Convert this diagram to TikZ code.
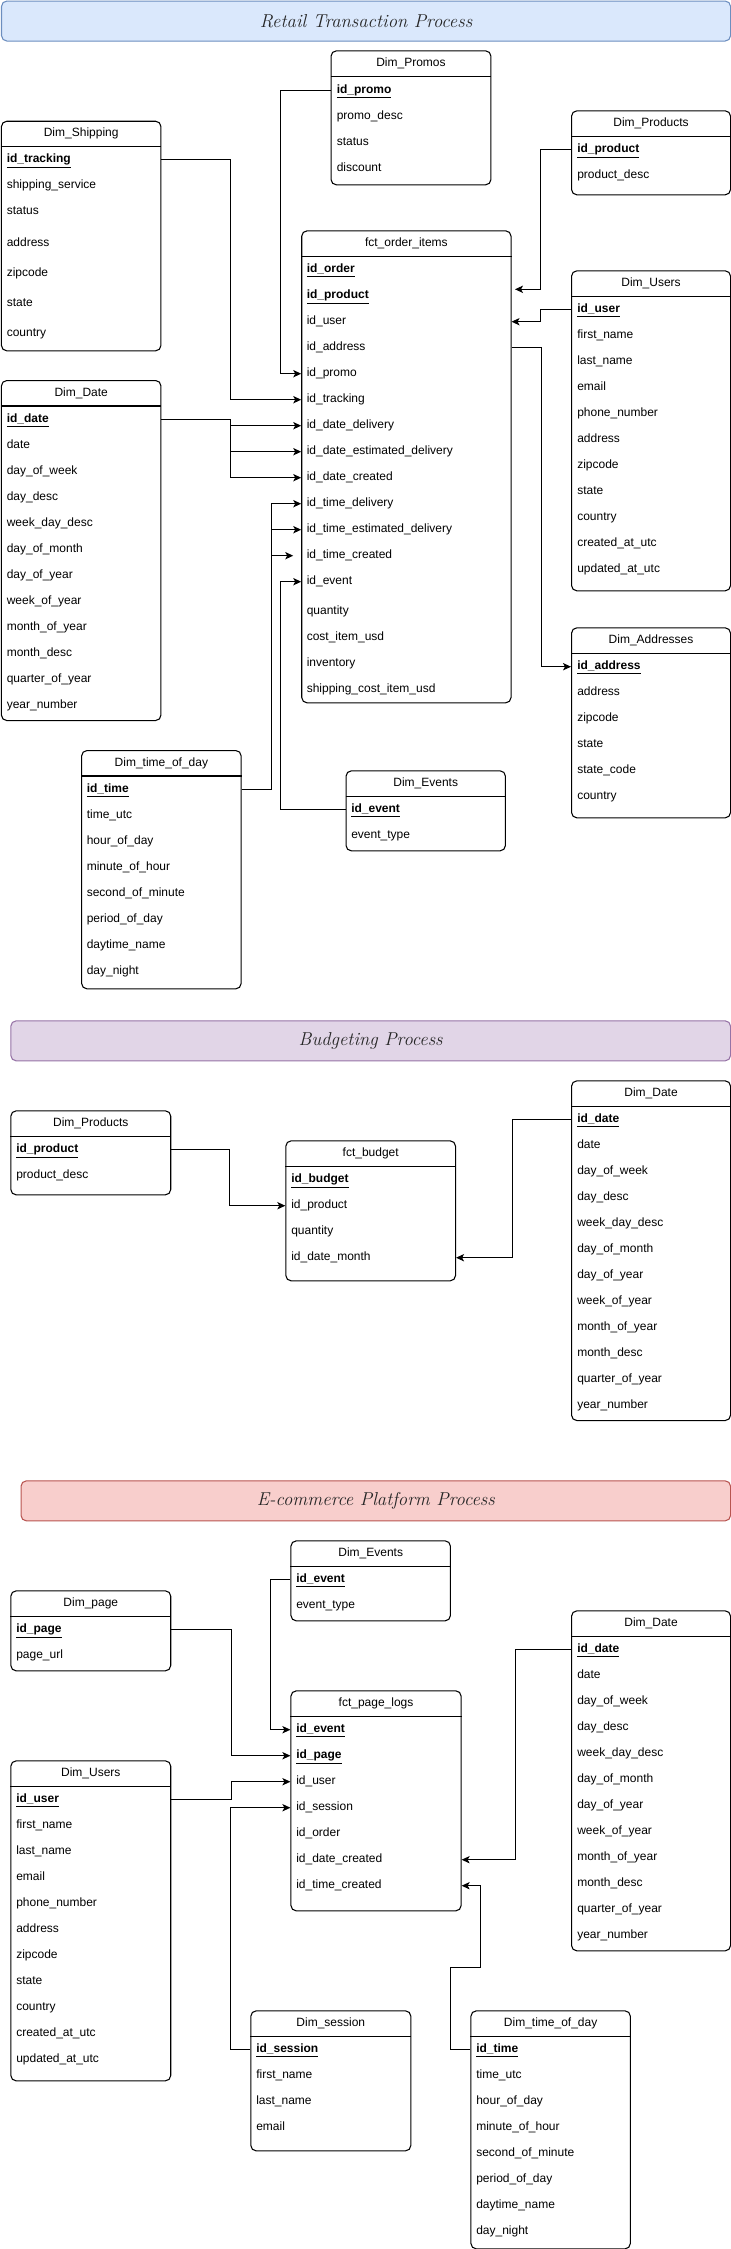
\documentclass[tikz,border=0pt]{standalone}
\usepackage{fontspec}
\setsansfont{Liberation Sans}
\usetikzlibrary{arrows.meta}

\definecolor{retailfill}{HTML}{DAE8FC}
\definecolor{retaildraw}{HTML}{6C8EBF}
\definecolor{budgetfill}{HTML}{E1D5E7}
\definecolor{budgetdraw}{HTML}{9673A6}
\definecolor{ecomfill}{HTML}{F8CECC}
\definecolor{ecomdraw}{HTML}{B85450}

\newcommand{\pk}[1]{\textbf{\underline{#1}}}
\newcommand*{\colsproducts}{\pk{id\_product}, product\_desc}
\newcommand*{\colsevents}{\pk{id\_event}, event\_type}
\newcommand*{\colsusers}{\pk{id\_user}, first\_name, last\_name, email, phone\_number, address, zipcode, state, country, created\_at\_utc, updated\_at\_utc}
\newcommand*{\colsdate}{\pk{id\_date}, date, day\_of\_week, day\_desc, week\_day\_desc, day\_of\_month, day\_of\_year, week\_of\_year, month\_of\_year, month\_desc, quarter\_of\_year, year\_number}
\newcommand*{\colstime}{\pk{id\_time}, time\_utc, hour\_of\_day, minute\_of\_hour, second\_of\_minute, period\_of\_day, daytime\_name, day\_night}

\begin{document}
\begin{tikzpicture}[x=0.75pt, y=-0.75pt,
	tbl/.style n args={2}{draw, rounded corners=4pt, line width=0.8pt, anchor=north west, inner sep=0pt, minimum width=#1*0.75pt, minimum height=#2*0.75pt},
	bar/.style n args={2}{draw, rounded corners=4pt, line width=0.8pt, anchor=north west, inner sep=0pt, minimum height=40*0.75pt, minimum width=#1*0.75pt, fill=#2fill, draw=#2draw, font=\itshape\fontsize{14}{16}\selectfont, text=black!85},
	hdr/.style={font=\sffamily\fontsize{9}{11}\selectfont, text height=6.5pt, text depth=2pt},
	row/.style={anchor=west, inner sep=0pt, text height=6.5pt, text depth=2pt, font=\sffamily\fontsize{9}{11}\selectfont},
	link/.style={line width=0.7pt, -{Stealth[length=6pt, width=5.5pt, inset=1.5pt]}}]
	\useasboundingbox (0,0) rectangle (731,2249);

	% Retail Transaction Process
	\node[bar={729}{retail}] (retail) at (1,0.5) {Retail Transaction Process};

	% Tabellen
	\node[tbl={159.9}{134}] (promos) at (330.5,50.3) {};
	\node[tbl={159.5}{229.6}] (ship) at (0.9,120.7) {};
	\node[tbl={159}{84}] (tprod) at (571,110.3) {};
	\node[tbl={209.3}{472}] (fct) at (301.2,230.3) {};
	\node[tbl={159}{320}] (users) at (571,270.3) {};
	\node[tbl={159}{190}] (addr) at (571,627.3) {};
	\node[tbl={159.5}{340}] (date) at (0.9,380) {};
	\node[tbl={159.5}{238.3}] (time) at (81.1,750) {};
	\node[tbl={159.4}{80}] (events) at (345.5,770.3) {};

	% Kopfzeilen
	\node[hdr] (promos-h) at ([yshift=-9.75pt]promos.north) {Dim\_Promos};
	\node[hdr] (ship-h) at ([yshift=-9.75pt]ship.north) {Dim\_Shipping};
	\node[hdr] (tprod-h) at ([yshift=-9.75pt]tprod.north) {Dim\_Products};
	\node[hdr] (fct-h) at ([yshift=-9.75pt]fct.north) {fct\_order\_items};
	\node[hdr] (users-h) at ([yshift=-9.75pt]users.north) {Dim\_Users};
	\node[hdr] (addr-h) at ([yshift=-9.75pt]addr.north) {Dim\_Addresses};
	\node[hdr] (date-h) at ([yshift=-9.75pt]date.north) {Dim\_Date};
	\node[hdr] (time-h) at ([yshift=-9.75pt]time.north) {Dim\_time\_of\_day};
	\node[hdr] (events-h) at ([yshift=-9.75pt]events.north) {Dim\_Events};

	% Spalten
	\foreach \t [count=\i from 0] in {\pk{id\_promo}, promo\_desc, status, discount}
		\node[row] (promos-\i) at (336.5, 90+26*\i) {\t};
	\foreach \t/\y [count=\i from 0] in {\pk{id\_tracking}/159.7, shipping\_service/185.7, status/211.7, address/243.7, zipcode/273.7, state/303.7, country/333.7}
		\node[row] (ship-\i) at (6.5, \y) {\t};
	\foreach \t [count=\i from 0] in \colsproducts
		\node[row] (tprod-\i) at (577, 149.7+26*\i) {\t};
	\foreach \t [count=\i from 0] in {\pk{id\_order}, \pk{id\_product}, id\_user, id\_address, id\_promo, id\_tracking, id\_date\_delivery, id\_date\_estimated\_delivery, id\_date\_created, id\_time\_delivery, id\_time\_estimated\_delivery, id\_time\_created, id\_event}
		\node[row] (fct-\i) at (306.5, 269.7+26*\i) {\t};
	\foreach \t [count=\i from 13] in {quantity, cost\_item\_usd, inventory, shipping\_cost\_item\_usd}
		\node[row] (fct-\i) at (306.5, 273.7+26*\i) {\t};
	\foreach \t [count=\i from 0] in \colsusers
		\node[row] (users-\i) at (577, 309.7+26*\i) {\t};
	\foreach \t [count=\i from 0] in {\pk{id\_address}, address, zipcode, state, state\_code, country}
		\node[row] (addr-\i) at (577, 666.7+26*\i) {\t};
	\foreach \t [count=\i from 0] in \colsdate
		\node[row] (date-\i) at (6.5, 419.7+26*\i) {\t};
	\foreach \t [count=\i from 0] in \colstime
		\node[row] (time-\i) at (86.5, 789.7+26*\i) {\t};
	\foreach \t [count=\i from 0] in \colsevents
		\node[row] (events-\i) at (351, 809.7+26*\i) {\t};

	% Verbindungen
	\coordinate (fct-prod) at (515,289.3);
	\draw[link] (promos-0 -| promos.west) -- ++(-49.8,0) |- (fct-4 -| fct.west);
	\draw[link] (ship-0 -| ship.east) -- ++(69.4,0) |- (fct-5 -| fct.west);
	\draw[link] (tprod-0 -| tprod.west) -- ++(-30.2,0) |- (fct-prod);
	\draw[link] (users-0 -| users.west) -- ++(-30.2,0) |- (fct-2 -| fct.east);
	\draw[link] (fct-3 -| fct.east) -- ++(30.3,0) |- (addr-0 -| addr.west);
	\foreach \j in {6,7,8}
		\draw[link] (date-0 -| date.east) -- ++(69.4,0) |- (fct-\j -| fct.west);
	\foreach \j in {9,10}
		\draw[link] (time-0 -| time.east) -- ++(29.8,0) |- (fct-\j -| fct.west);
	\draw[link] (time-0 -| time.east) -- ++(29.8,0) |- ([xshift=-6pt]fct-11 -| fct.west);
	\draw[link] (events-0 -| events.west) -- ++(-64.8,0) |- (fct-12 -| fct.west);

	% Budgeting Process
	\node[bar={719.7}{budget}] (budget-bar) at (10.3,1020.3) {Budgeting Process};

	\node[tbl={159.9}{84}] (bprod) at (10.3,1110.3) {};
	\node[tbl={169.7}{140}] (budget) at (285.3,1140.3) {};
	\node[tbl={159}{339.7}] (bdate) at (571,1080.3) {};

	\node[hdr] (bprod-h) at ([yshift=-9.75pt]bprod.north) {Dim\_Products};
	\node[hdr] (budget-h) at ([yshift=-9.75pt]budget.north) {fct\_budget};
	\node[hdr] (bdate-h) at ([yshift=-9.75pt]bdate.north) {Dim\_Date};

	\foreach \t [count=\i from 0] in \colsproducts
		\node[row] (bprod-\i) at (16, 1149.7+26*\i) {\t};
	\foreach \t [count=\i from 0] in {\pk{id\_budget}, id\_product, quantity, id\_date\_month}
		\node[row] (budget-\i) at (291, 1179.7+26*\i) {\t};
	\foreach \t [count=\i from 0] in \colsdate
		\node[row] (bdate-\i) at (577, 1119.7+26*\i) {\t};

	\draw[link] (bprod-0 -| bprod.east) -- ++(57.8,0) |- (budget-1 -| budget.west);
	\draw[link] (bdate-0 -| bdate.west) -- ++(-58.2,0) |- (budget-3 -| budget.east);

	% E-commerce Platform Process
	\node[bar={709.5}{ecom}] (ecom-bar) at (20.5,1480.3) {E-commerce Platform Process};

	\node[tbl={159.5}{80}] (eevents) at (290.4,1540.3) {};
	\node[tbl={159.9}{80}] (page) at (10.3,1590.3) {};
	\node[tbl={159}{340}] (edate) at (571,1610.3) {};
	\node[tbl={170.2}{220}] (logs) at (290.4,1690.3) {};
	\node[tbl={159.9}{320}] (eusers) at (10.3,1760.3) {};
	\node[tbl={160}{140}] (session) at (250.3,2010.3) {};
	\node[tbl={159.4}{238}] (etime) at (470.4,2010.3) {};

	\node[hdr] (eevents-h) at ([yshift=-9.75pt]eevents.north) {Dim\_Events};
	\node[hdr] (page-h) at ([yshift=-9.75pt]page.north) {Dim\_page};
	\node[hdr] (edate-h) at ([yshift=-9.75pt]edate.north) {Dim\_Date};
	\node[hdr] (logs-h) at ([yshift=-9.75pt]logs.north) {fct\_page\_logs};
	\node[hdr] (eusers-h) at ([yshift=-9.75pt]eusers.north) {Dim\_Users};
	\node[hdr] (session-h) at ([yshift=-9.75pt]session.north) {Dim\_session};
	\node[hdr] (etime-h) at ([yshift=-9.75pt]etime.north) {Dim\_time\_of\_day};

	\foreach \t [count=\i from 0] in \colsevents
		\node[row] (eevents-\i) at (296, 1579.7+26*\i) {\t};
	\foreach \t [count=\i from 0] in {\pk{id\_page}, page\_url}
		\node[row] (page-\i) at (16, 1629.7+26*\i) {\t};
	\foreach \t [count=\i from 0] in \colsdate
		\node[row] (edate-\i) at (577, 1649.7+26*\i) {\t};
	\foreach \t [count=\i from 0] in {\pk{id\_event}, \pk{id\_page}, id\_user, id\_session, id\_order, id\_date\_created, id\_time\_created}
		\node[row] (logs-\i) at (296, 1729.7+26*\i) {\t};
	\foreach \t [count=\i from 0] in \colsusers
		\node[row] (eusers-\i) at (16, 1799.7+26*\i) {\t};
	\foreach \t [count=\i from 0] in {\pk{id\_session}, first\_name, last\_name, email}
		\node[row] (session-\i) at (256, 2049.7+26*\i) {\t};
	\foreach \t [count=\i from 0] in \colstime
		\node[row] (etime-\i) at (476, 2049.7+26*\i) {\t};

	\draw[link] (eevents-0 -| eevents.west) -- ++(-20,0) |- (logs-0 -| logs.west);
	\draw[link] (page-0 -| page.east) -- ++(60.1,0) |- (logs-1 -| logs.west);
	\draw[link] (eusers-0 -| eusers.east) -- ++(60.1,0) |- (logs-2 -| logs.west);
	\draw[link] (session-0 -| session.west) -- ++(-20,0) |- (logs-3 -| logs.west);
	\draw[link] (edate-0 -| edate.west) -- ++(-55.4,0) |- (logs-5 -| logs.east);
	\draw[link] (etime-0 -| etime.west) -- ++(-20.1,0) -- ++(0,-82.4) -- ++(29.9,0) |- (logs-6 -| logs.east);

	% Trennlinien unter den Kopfzeilen
	\foreach \n in {promos, ship, tprod, fct, users, addr, date, time, events, bprod, budget, bdate, eevents, page, edate, logs, eusers, session, etime}
		\draw[line width=0.8pt] ([yshift=-19.5pt]\n.north west) -- ([yshift=-19.5pt]\n.north east);
\end{tikzpicture}
\end{document}
